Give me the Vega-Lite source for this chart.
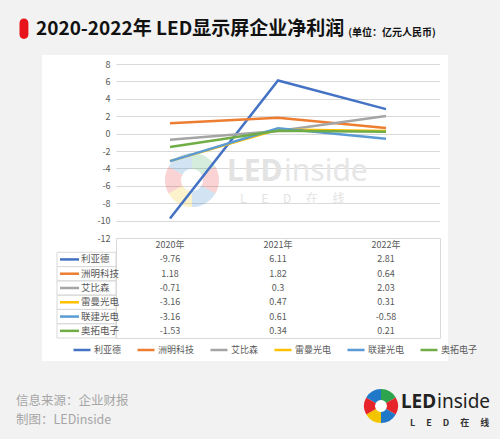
{
  "$schema": "https://vega.github.io/schema/vega-lite/v6.json",
  "background": "#f2f2f2",
  "padding": 0,
  "config": {
    "font": "Noto Sans CJK SC",
    "view": {"stroke": null},
    "legend": {
      "orient": "none", "legendX": -44, "legendY": 276, "direction": "horizontal", "columns": 6,
      "symbolType": "stroke", "symbolSize": 289, "symbolStrokeWidth": 2.5,
      "labelFontSize": 9, "labelColor": "#595959", "labelOffset": 2, "columnPadding": 10, "padding": 0
    }
  },
  "datasets": {
    "profit": [
      {"company": "利亚德", "year": 2020, "value": -9.76},
      {"company": "利亚德", "year": 2021, "value": 6.11},
      {"company": "利亚德", "year": 2022, "value": 2.81},
      {"company": "洲明科技", "year": 2020, "value": 1.18},
      {"company": "洲明科技", "year": 2021, "value": 1.82},
      {"company": "洲明科技", "year": 2022, "value": 0.64},
      {"company": "艾比森", "year": 2020, "value": -0.71},
      {"company": "艾比森", "year": 2021, "value": 0.3},
      {"company": "艾比森", "year": 2022, "value": 2.03},
      {"company": "雷曼光电", "year": 2020, "value": -3.16},
      {"company": "雷曼光电", "year": 2021, "value": 0.47},
      {"company": "雷曼光电", "year": 2022, "value": 0.31},
      {"company": "联建光电", "year": 2020, "value": -3.16},
      {"company": "联建光电", "year": 2021, "value": 0.61},
      {"company": "联建光电", "year": 2022, "value": -0.58},
      {"company": "奥拓电子", "year": 2020, "value": -1.53},
      {"company": "奥拓电子", "year": 2021, "value": 0.34},
      {"company": "奥拓电子", "year": 2022, "value": 0.21}
    ],
    "years": [
      {"year": 2020, "label": "2020年"},
      {"year": 2021, "label": "2021年"},
      {"year": 2022, "label": "2022年"}
    ],
    "ring": [
      {"seg": "a", "share": 1},
      {"seg": "b", "share": 1},
      {"seg": "c", "share": 1},
      {"seg": "d", "share": 1},
      {"seg": "e", "share": 1},
      {"seg": "f", "share": 1}
    ],
    "one": [{}]
  },
  "spacing": 0,
  "bounds": "flush",
  "vconcat": [
    {
      "width": 324,
      "height": 174,
      "view": {"fill": "white", "stroke": null},
      "resolve": {"axis": {"y": "independent"}},
      "layer": [
        {
          "data": {"name": "one"},
          "mark": {"type": "rect", "fill": "transparent", "strokeWidth": 0},
          "encoding": {
            "x": {"datum": 2018.42593, "type": "quantitative", "axis": null,
                  "scale": {"domain": [2019.5, 2022.5], "nice": false, "zero": false}},
            "x2": {"datum": 2023.05556},
            "y": {"datum": 15.35632, "type": "quantitative",
                  "scale": {"domain": [-12, 8], "nice": false, "zero": false},
                  "axis": {"orient": "right", "grid": true, "gridColor": "#d9d9d9", "labels": false, "ticks": false,
                           "domain": false, "title": null, "values": [-12, -10, -8, -6, -4, -2, 0, 2, 4, 6, 8], "zindex": 0}},
            "y2": {"datum": -35.10345}
          }
        },
        {
          "data": {"name": "one"},
          "mark": {"type": "rect", "fill": "white"},
          "encoding": {
            "x": {"datum": 2018.81481, "type": "quantitative", "axis": null},
            "x2": {"datum": 2019.5},
            "y": {"datum": 9.03448, "type": "quantitative", "axis": null},
            "y2": {"datum": -26.13793}
          }
        },
        {
          "data": {"name": "one"},
          "mark": {"type": "rect", "fill": "white"},
          "encoding": {
            "x": {"datum": 2019.5, "type": "quantitative", "axis": null},
            "x2": {"datum": 2022.57407},
            "y": {"datum": 9.03448, "type": "quantitative", "axis": null},
            "y2": {"datum": 8}
          }
        },
        {
          "data": {"name": "one"},
          "mark": {"type": "rect", "fill": "white"},
          "encoding": {
            "x": {"datum": 2022.5, "type": "quantitative", "axis": null},
            "x2": {"datum": 2022.57407},
            "y": {"datum": 8, "type": "quantitative", "axis": null},
            "y2": {"datum": -12}
          }
        },
        {
          "data": {"name": "one"},
          "mark": {"type": "rect", "fill": "white"},
          "encoding": {
            "x": {"datum": 2019.5, "type": "quantitative", "axis": null},
            "x2": {"datum": 2022.57407},
            "y": {"datum": -12, "type": "quantitative", "axis": null},
            "y2": {"datum": -26.13793}
          }
        },
        {
          "data": {"name": "ring"},
          "mark": {"type": "arc", "innerRadius": 11, "outerRadius": 27, "opacity": 0.2},
          "encoding": {
            "theta": {"field": "share", "type": "quantitative", "stack": true},
            "fill": {"field": "seg", "type": "nominal", "legend": null,
                     "scale": {"domain": ["a", "b", "c", "d", "e", "f"],
                               "range": ["#2da44e", "#e5252a", "#1f78c8", "#f2c500", "#e5252a", "#1f78c8"]}},
            "x": {"datum": 2020.2037, "type": "quantitative", "axis": null},
            "y": {"datum": -5.33333, "type": "quantitative", "axis": null}
          }
        },
        {
          "data": {"name": "one"},
          "mark": {"type": "text", "text": "LED", "fontSize": 30, "fontWeight": "bold", "font": "Noto Sans", "color": "#e3e3e3", "align": "left", "baseline": "middle"},
          "encoding": {
            "x": {"datum": 2020.52778, "type": "quantitative", "axis": null},
            "y": {"datum": -4.47126, "type": "quantitative", "axis": null}
          }
        },
        {
          "data": {"name": "one"},
          "mark": {"type": "text", "text": "inside", "fontSize": 30, "font": "Noto Sans", "color": "#e6e6e6", "align": "left", "baseline": "middle"},
          "encoding": {
            "x": {"datum": 2021.05556, "type": "quantitative", "axis": null},
            "y": {"datum": -4.47126, "type": "quantitative", "axis": null}
          }
        },
        {
          "data": {"name": "one"},
          "mark": {"type": "text", "text": "L\u2003 E\u2003 D\u2003 在\u2003 线", "fontSize": 12, "color": "#e3e3e3", "align": "left", "baseline": "middle"},
          "encoding": {
            "x": {"datum": 2020.64815, "type": "quantitative", "axis": null},
            "y": {"datum": -7.51724, "type": "quantitative", "axis": null}
          }
        },
        {
          "data": {"name": "profit"},
          "mark": {"type": "line", "strokeWidth": 2.5},
          "encoding": {
            "x": {"field": "year", "type": "quantitative", "axis": null,
                  "scale": {"domain": [2019.5, 2022.5], "nice": false, "zero": false}},
            "y": {"field": "value", "type": "quantitative",
                  "scale": {"domain": [-12, 8], "nice": false, "zero": false},
                  "axis": {"orient": "left", "grid": false, "ticks": false, "domain": false, "title": null,
                           "values": [-12, -10, -8, -6, -4, -2, 0, 2, 4, 6, 8], "labelExpr": "'' + datum.value",
                           "labelPadding": 6, "labelFontSize": 9, "labelColor": "#595959", "zindex": 1}},
            "color": {"field": "company", "type": "nominal", "legend": {"title": null},
                      "scale": {"domain": ["利亚德", "洲明科技", "艾比森", "雷曼光电", "联建光电", "奥拓电子"],
                                "range": ["#4472c4", "#ed7d31", "#a5a5a5", "#ffc000", "#5b9bd5", "#70ad47"]}}
          }
        },
        {
          "data": {"name": "one"},
          "mark": {"type": "rect", "fill": "#e8141b", "cornerRadius": 4.5},
          "encoding": {
            "x": {"datum": 2018.60648, "type": "quantitative", "axis": null},
            "x2": {"datum": 2018.68889},
            "y": {"datum": 13.22989, "type": "quantitative", "axis": null},
            "y2": {"datum": 10.87356}
          }
        },
        {
          "data": {"name": "one"},
          "mark": {"type": "text", "text": "2020-2022年 LED显示屏企业净利润", "fontSize": 19, "fontWeight": "bold", "color": "#111111", "align": "left", "baseline": "middle"},
          "encoding": {
            "x": {"datum": 2018.75926, "type": "quantitative", "axis": null},
            "y": {"datum": 11.96552, "type": "quantitative", "axis": null}
          }
        },
        {
          "data": {"name": "one"},
          "mark": {"type": "text", "text": "(单位：亿元人民币)", "fontSize": 10, "fontWeight": "bold", "color": "#111111", "align": "left", "baseline": "middle"},
          "encoding": {
            "x": {"datum": 2021.65, "type": "quantitative", "axis": null},
            "y": {"datum": 11.50575, "type": "quantitative", "axis": null}
          }
        },
        {
          "data": {"name": "one"},
          "mark": {"type": "text", "text": "信息来源：企业财报", "fontSize": 12.5, "color": "#a6a6a6", "align": "left", "baseline": "middle"},
          "encoding": {
            "x": {"datum": 2018.57407, "type": "quantitative", "axis": null},
            "y": {"datum": -30.7931, "type": "quantitative", "axis": null}
          }
        },
        {
          "data": {"name": "one"},
          "mark": {"type": "text", "text": "制图：LEDinside", "fontSize": 12.5, "color": "#a6a6a6", "align": "left", "baseline": "middle"},
          "encoding": {
            "x": {"datum": 2018.57407, "type": "quantitative", "axis": null},
            "y": {"datum": -32.91954, "type": "quantitative", "axis": null}
          }
        },
        {
          "data": {"name": "ring"},
          "mark": {"type": "arc", "innerRadius": 6, "outerRadius": 17},
          "encoding": {
            "theta": {"field": "share", "type": "quantitative", "stack": true},
            "fill": {"field": "seg", "type": "nominal", "legend": null},
            "x": {"datum": 2021.9537, "type": "quantitative", "axis": null},
            "y": {"datum": -31.31034, "type": "quantitative", "axis": null}
          }
        },
        {
          "data": {"name": "one"},
          "mark": {"type": "circle", "size": 120, "fill": "white", "opacity": 1},
          "encoding": {
            "x": {"datum": 2021.9537, "type": "quantitative", "axis": null},
            "y": {"datum": -31.31034, "type": "quantitative", "axis": null}
          }
        },
        {
          "data": {"name": "one"},
          "mark": {"type": "text", "text": "LED", "fontSize": 19, "fontWeight": "bold", "font": "Noto Sans", "color": "#222222", "align": "left", "baseline": "middle"},
          "encoding": {
            "x": {"datum": 2022.13889, "type": "quantitative", "axis": null},
            "y": {"datum": -30.85057, "type": "quantitative", "axis": null}
          }
        },
        {
          "data": {"name": "one"},
          "mark": {"type": "text", "text": "inside", "fontSize": 19, "font": "Noto Sans", "color": "#222222", "align": "left", "baseline": "middle"},
          "encoding": {
            "x": {"datum": 2022.47222, "type": "quantitative", "axis": null},
            "y": {"datum": -30.85057, "type": "quantitative", "axis": null}
          }
        },
        {
          "data": {"name": "one"},
          "mark": {"type": "text", "text": "L\u2003 E\u2003 D\u2003 在\u2003 线", "fontSize": 9, "fontWeight": "bold", "color": "#333333", "align": "left", "baseline": "middle"},
          "encoding": {
            "x": {"datum": 2022.22222, "type": "quantitative", "axis": null},
            "y": {"datum": -33.26437, "type": "quantitative", "axis": null}
          }
        }
      ]
    },
    {
      "width": 324,
      "height": 100,
      "view": {"stroke": "#d9d9d9"},
      "layer": [
        {
          "data": {"name": "profit"},
          "mark": {"type": "text", "fontSize": 9, "color": "#595959"},
          "encoding": {
            "x": {"field": "year", "type": "quantitative",
                  "scale": {"domain": [2019.5, 2022.5], "nice": false, "zero": false},
                  "axis": {"values": [2019.5, 2020.5, 2021.5, 2022.5], "grid": true, "gridColor": "#d9d9d9",
                           "labels": false, "ticks": false, "domain": false, "title": null}},
            "y": {"field": "company", "type": "nominal",
                  "scale": {"type": "band", "paddingInner": 0, "paddingOuter": 0,
                            "domain": ["年份", "利亚德", "洲明科技", "艾比森", "雷曼光电", "联建光电", "奥拓电子"]},
                  "axis": {"tickBand": "extent", "grid": true, "gridColor": "#d9d9d9", "labels": false,
                           "ticks": false, "domain": false, "title": null}},
            "text": {"field": "value", "type": "nominal"}
          }
        },
        {
          "data": {"name": "years"},
          "mark": {"type": "text", "fontSize": 9, "color": "#595959"},
          "encoding": {
            "x": {"field": "year", "type": "quantitative", "axis": null},
            "y": {"datum": "年份", "type": "nominal", "axis": null},
            "text": {"field": "label", "type": "nominal"}
          }
        },
        {
          "data": {"name": "profit"},
          "transform": [{"filter": "datum.year == 2020"}],
          "mark": {"type": "rect", "filled": false, "stroke": "#d9d9d9", "strokeWidth": 1},
          "encoding": {
            "x": {"datum": 2018.9537, "type": "quantitative", "axis": null},
            "x2": {"datum": 2019.5},
            "y": {"field": "company", "type": "nominal", "axis": null}
          }
        },
        {
          "data": {"name": "profit"},
          "transform": [{"filter": "datum.year == 2020"}],
          "mark": {"type": "rule", "strokeWidth": 2.5},
          "encoding": {
            "x": {"datum": 2018.98148, "type": "quantitative", "axis": null},
            "x2": {"datum": 2019.15741},
            "y": {"field": "company", "type": "nominal", "axis": null},
            "color": {"field": "company", "type": "nominal", "legend": {"title": null}}
          }
        },
        {
          "data": {"name": "profit"},
          "transform": [{"filter": "datum.year == 2020"}],
          "mark": {"type": "text", "fontSize": 9.5, "color": "#595959", "align": "left"},
          "encoding": {
            "x": {"datum": 2019.17593, "type": "quantitative", "axis": null},
            "y": {"field": "company", "type": "nominal", "axis": null},
            "text": {"field": "company", "type": "nominal"}
          }
        }
      ]
    }
  ]
}
